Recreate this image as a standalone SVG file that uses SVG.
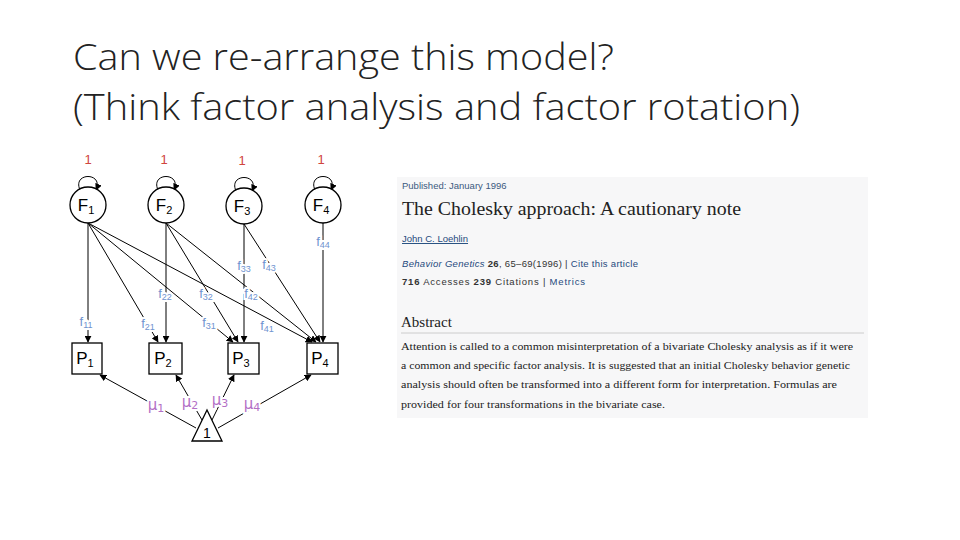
<svg xmlns="http://www.w3.org/2000/svg" width="960" height="540" viewBox="0 0 960 540">
<defs>
<marker id="ah" viewBox="0 0 10 10" refX="9" refY="5" markerWidth="7" markerHeight="7" orient="auto-start-reverse" markerUnits="userSpaceOnUse"><path d="M0,0 L10,5 L0,10 z" fill="#000"/></marker>
<style>
.n{fill:#fff;stroke:#000;stroke-width:1.3}
.c{stroke:#000;stroke-width:1;fill:none;marker-end:url(#ah)}
.t{font-family:"Liberation Sans",Arial,sans-serif;font-size:17px;fill:#000;text-anchor:middle}
.s{font-size:11px}
.one{font-family:"Liberation Sans",Arial,sans-serif;font-size:13px;fill:#d0453d;text-anchor:middle}
.f{font-family:"Liberation Sans",Arial,sans-serif;font-size:13px;fill:#6f93cf;text-anchor:middle}
.fs{font-size:9px}
.m{font-family:"DejaVu Sans",sans-serif;font-size:15px;fill:#b36fc6;text-anchor:middle}
.h{font-family:"Open Sans",sans-serif;font-weight:300;font-size:37px;fill:#222}
.ps{font-family:"Liberation Sans",Arial,sans-serif;font-size:9.5px;fill:#333}
.ser{font-family:"Liberation Serif",serif;fill:#222}
</style>
</defs>
<rect width="960" height="540" fill="#fff"/>
<text class="h" x="73" y="70" textLength="541" lengthAdjust="spacingAndGlyphs">Can we re-arrange this model?</text>
<text class="h" x="73" y="120" textLength="727" lengthAdjust="spacingAndGlyphs">(Think factor analysis and factor rotation)</text>

<g id="connectors">
<path class="c" d="M80,190 C72,172 104,172 96,190"/>
<path class="c" d="M158,190 C150,172 182,172 174,190"/>
<path class="c" d="M236,191 C228,173 260,173 252,191"/>
<path class="c" d="M315,190 C307,172 339,172 331,190"/>
<line class="c" x1="88" y1="223" x2="88" y2="342"/>
<line class="c" x1="88" y1="223" x2="158" y2="342"/>
<line class="c" x1="88" y1="223" x2="233" y2="342"/>
<line class="c" x1="88" y1="223" x2="312" y2="342"/>
<line class="c" x1="166" y1="223" x2="166" y2="342"/>
<line class="c" x1="166" y1="223" x2="238" y2="342"/>
<line class="c" x1="166" y1="223" x2="316" y2="342"/>
<line class="c" x1="244" y1="224" x2="244" y2="342"/>
<line class="c" x1="244" y1="224" x2="320" y2="342"/>
<line class="c" x1="323" y1="223" x2="323" y2="342"/>
<line class="c" x1="196" y1="428" x2="100" y2="375"/>
<line class="c" x1="202" y1="420" x2="176" y2="375"/>
<line class="c" x1="212" y1="420" x2="234" y2="375"/>
<line class="c" x1="218" y1="428" x2="311" y2="375"/>
</g>

<g id="labels">
<text class="one" x="88" y="164">1</text>
<text class="one" x="164" y="164">1</text>
<text class="one" x="242" y="165">1</text>
<text class="one" x="321" y="164">1</text>
<g class="f">
<text x="86" y="326" fill="#fff" stroke="#fff" stroke-width="4">f<tspan class="fs" dy="2">11</tspan></text><text x="86" y="326">f<tspan class="fs" dy="2">11</tspan></text>
<text x="148" y="328" fill="#fff" stroke="#fff" stroke-width="4">f<tspan class="fs" dy="2">21</tspan></text><text x="148" y="328">f<tspan class="fs" dy="2">21</tspan></text>
<text x="165" y="298" fill="#fff" stroke="#fff" stroke-width="4">f<tspan class="fs" dy="2">22</tspan></text><text x="165" y="298">f<tspan class="fs" dy="2">22</tspan></text>
<text x="209" y="327" fill="#fff" stroke="#fff" stroke-width="4">f<tspan class="fs" dy="2">31</tspan></text><text x="209" y="327">f<tspan class="fs" dy="2">31</tspan></text>
<text x="206" y="298" fill="#fff" stroke="#fff" stroke-width="4">f<tspan class="fs" dy="2">32</tspan></text><text x="206" y="298">f<tspan class="fs" dy="2">32</tspan></text>
<text x="244" y="270" fill="#fff" stroke="#fff" stroke-width="4">f<tspan class="fs" dy="2">33</tspan></text><text x="244" y="270">f<tspan class="fs" dy="2">33</tspan></text>
<text x="267" y="330" fill="#fff" stroke="#fff" stroke-width="4">f<tspan class="fs" dy="2">41</tspan></text><text x="267" y="330">f<tspan class="fs" dy="2">41</tspan></text>
<text x="251" y="298" fill="#fff" stroke="#fff" stroke-width="4">f<tspan class="fs" dy="2">42</tspan></text><text x="251" y="298">f<tspan class="fs" dy="2">42</tspan></text>
<text x="269" y="269" fill="#fff" stroke="#fff" stroke-width="4">f<tspan class="fs" dy="2">43</tspan></text><text x="269" y="269">f<tspan class="fs" dy="2">43</tspan></text>
<text x="323" y="246" fill="#fff" stroke="#fff" stroke-width="4">f<tspan class="fs" dy="2">44</tspan></text><text x="323" y="246">f<tspan class="fs" dy="2">44</tspan></text>
</g>
<g class="m">
<text x="156" y="410" fill="#fff" stroke="#fff" stroke-width="4">μ<tspan font-size="11" dy="2">1</tspan></text><text x="156" y="410">μ<tspan font-size="11" dy="2">1</tspan></text>
<text x="190" y="407" fill="#fff" stroke="#fff" stroke-width="4">μ<tspan font-size="11" dy="2">2</tspan></text><text x="190" y="407">μ<tspan font-size="11" dy="2">2</tspan></text>
<text x="220" y="405" fill="#fff" stroke="#fff" stroke-width="4">μ<tspan font-size="11" dy="2">3</tspan></text><text x="220" y="405">μ<tspan font-size="11" dy="2">3</tspan></text>
<text x="252" y="409" fill="#fff" stroke="#fff" stroke-width="4">μ<tspan font-size="11" dy="2">4</tspan></text><text x="252" y="409">μ<tspan font-size="11" dy="2">4</tspan></text>
</g>
</g>

<g id="F1"><circle class="n" cx="88" cy="205" r="18"/><text class="t" x="86" y="211">F<tspan class="s" dy="3">1</tspan></text></g>
<g id="F2"><circle class="n" cx="166" cy="205" r="18"/><text class="t" x="164" y="211">F<tspan class="s" dy="3">2</tspan></text></g>
<g id="F3"><circle class="n" cx="244" cy="206" r="18"/><text class="t" x="242" y="212">F<tspan class="s" dy="3">3</tspan></text></g>
<g id="F4"><circle class="n" cx="323" cy="205" r="18"/><text class="t" x="321" y="211">F<tspan class="s" dy="3">4</tspan></text></g>
<g id="P1"><rect class="n" x="72" y="343" width="30" height="31"/><text class="t" x="85" y="364">P<tspan class="s" dy="3">1</tspan></text></g>
<g id="P2"><rect class="n" x="149" y="343" width="33" height="31"/><text class="t" x="163" y="364">P<tspan class="s" dy="3">2</tspan></text></g>
<g id="P3"><rect class="n" x="228" y="343" width="31" height="31"/><text class="t" x="241" y="364">P<tspan class="s" dy="3">3</tspan></text></g>
<g id="P4"><rect class="n" x="307" y="343" width="31" height="31"/><text class="t" x="320" y="364">P<tspan class="s" dy="3">4</tspan></text></g>
<g id="T1"><path class="n" d="M207,410 L222,441 L192,441 z"/><text class="t" x="207" y="438" style="font-size:14px">1</text></g>

<g id="article">
<rect x="397" y="177" width="471" height="241" fill="#f7f7f8"/>
<text class="ps" x="402" y="189" style="fill:#3c5a80">Published: January 1996</text>
<text class="ser" x="402" y="215" font-size="19.5" textLength="339" lengthAdjust="spacingAndGlyphs">The Cholesky approach: A cautionary note</text>
<text class="ps" x="402" y="242" style="fill:#1f4a7d;text-decoration:underline">John C. Loehlin</text>
<text class="ps" x="402" y="267" textLength="236"><tspan font-style="italic" fill="#1f4a7d">Behavior Genetics</tspan>  <tspan font-weight="bold">26</tspan>, 65–69(1996)  |  <tspan fill="#1f4a7d">Cite this article</tspan></text>
<text class="ps" x="402" y="285" textLength="183"><tspan font-weight="bold">716</tspan>  Accesses    <tspan font-weight="bold">239</tspan>  Citations  |  <tspan fill="#1f4a7d">Metrics</tspan></text>
<text class="ser" x="401" y="327" font-size="15">Abstract</text>
<line x1="401" y1="333" x2="864" y2="333" stroke="#ccc" stroke-width="1"/>
<g class="ser" font-size="11">
<text x="401" y="350" textLength="452" lengthAdjust="spacingAndGlyphs">Attention is called to a common misinterpretation of a bivariate Cholesky analysis as if it were</text>
<text x="401" y="369" textLength="449" lengthAdjust="spacingAndGlyphs">a common and specific factor analysis. It is suggested that an initial Cholesky behavior genetic</text>
<text x="401" y="388" textLength="436" lengthAdjust="spacingAndGlyphs">analysis should often be transformed into a different form for interpretation. Formulas are</text>
<text x="401" y="408" textLength="264" lengthAdjust="spacingAndGlyphs">provided for four transformations in the bivariate case.</text>
</g>
</g>
</svg>
